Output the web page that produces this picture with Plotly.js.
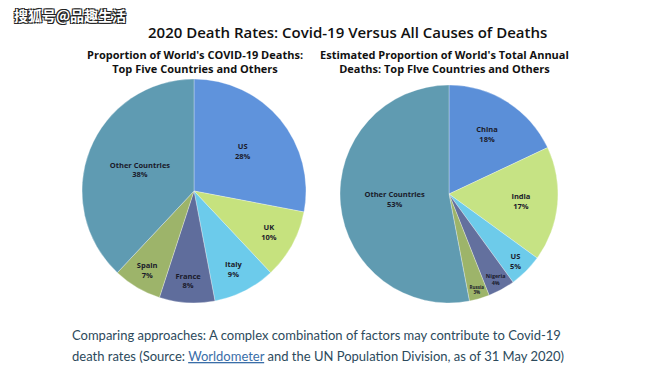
<!DOCTYPE html>
<html>
<head>
<meta charset="utf-8">
<script src="https://cdn.plot.ly/plotly-3.0.1.min.js"></script>
<style>html,body{margin:0;padding:0;background:#fff;}#chart{width:670px;height:377px;}</style>
</head>
<body>
<div id="chart"></div>
<script>
// Left pie: share of world's COVID-19 deaths (%)
const covidCountries = ["US", "UK", "Italy", "France", "Spain", "Other Countries"];
const covidShares = [28, 10, 9, 8, 7, 38];
const covidColors = ["#5f93dc", "#c6e27e", "#6ccbeb", "#5f6d9c", "#9db46a", "#5f9bb2"];

// Right pie: share of world's total annual deaths (%)
const allCountries = ["China", "India", "US", "Nigeria", "Russia", "Other Countries"];
const allShares = [18, 17, 5, 4, 3, 53];
const allColors = ["#5b8fd8", "#c6e384", "#6dcbea", "#63709e", "#9db46a", "#609bb1"];

const mainTitle = "2020 Death Rates: Covid-19 Versus All Causes of Deaths";
const leftTitle = "Proportion of World's COVID-19 Deaths:<br>Top Five Countries and Others";
const rightTitle = "Estimated Proportion of World's Total Annual<br>Deaths: Top Flve Countries and Others";
const captionLine1 = "Comparing approaches: A complex combination of factors may contribute to Covid-19";
const captionLine2 = "death rates (Source: <span style=\"text-decoration:underline;fill:#3a6ea8\">Worldometer</span> and the UN Population Division, as of 31 May 2020)";
const watermark = "搜狐号@品趣生活";

function pieTrace(labels, values, colors, domain) {
  return {
    type: "pie",
    labels: labels,
    values: values,
    sort: false,
    direction: "clockwise",
    rotation: 0,
    domain: domain,
    marker: {colors: colors, line: {color: "rgba(255,255,255,0.6)", width: 0.5}},
    texttemplate: "<b>%{label}</b><br><b>%{value}%</b>",
    textposition: "inside",
    insidetextorientation: "horizontal",
    textfont: {family: "Open Sans, sans-serif", size: 7.5, color: "#1a1a2a"},
    hoverinfo: "label+percent",
    showlegend: false
  };
}

const data = [
  pieTrace(covidCountries, covidShares, covidColors, {x: [0.1224, 0.4567], y: [0.1963, 0.7905]}),
  pieTrace(allCountries, allShares, allColors, {x: [0.5075, 0.8328], y: [0.1963, 0.7745]})
];

const shadow = "1px 1px 0 #222, -1px -1px 0 #222, 1px -1px 0 #222, -1px 1px 0 #222";

const layout = {
  width: 670, height: 377,
  margin: {l: 0, r: 0, t: 0, b: 0},
  paper_bgcolor: "#ffffff",
  plot_bgcolor: "#ffffff",
  showlegend: false,
  annotations: [
    {text: mainTitle, x: 347/670, y: 1 - 32/377, xref: "paper", yref: "paper", xanchor: "center", yanchor: "middle", showarrow: false,
     font: {family: "Open Sans, sans-serif", size: 15, color: "#111", weight: 600}},
    {text: leftTitle, x: 195/670, y: 1 - 61/377, xref: "paper", yref: "paper", xanchor: "center", yanchor: "middle", showarrow: false,
     font: {family: "Open Sans, sans-serif", size: 11, color: "#111", weight: 700}},
    {text: rightTitle, x: 444/670, y: 1 - 61/377, xref: "paper", yref: "paper", xanchor: "center", yanchor: "middle", showarrow: false,
     font: {family: "Open Sans, sans-serif", size: 11, color: "#111", weight: 700}},
    {text: captionLine1, x: 70/670, y: 1 - 335/377, xref: "paper", yref: "paper", xanchor: "left", yanchor: "middle", showarrow: false,
     font: {family: "Lato, sans-serif", size: 13, color: "#2c4a5c"}},
    {text: captionLine2, x: 70/670, y: 1 - 356/377, xref: "paper", yref: "paper", xanchor: "left", yanchor: "middle", showarrow: false,
     font: {family: "Lato, sans-serif", size: 13, color: "#2c4a5c"}},
    {text: watermark, x: 12/670, y: 1 - 15/377, xref: "paper", yref: "paper", xanchor: "left", yanchor: "middle", showarrow: false,
     font: {family: "Noto Sans CJK SC, sans-serif", size: 14, color: "#ffffff", weight: 700, shadow: shadow}}
  ]
};

Plotly.newPlot("chart", data, layout, {displayModeBar: false, staticPlot: true});
</script>
</body>
</html>
